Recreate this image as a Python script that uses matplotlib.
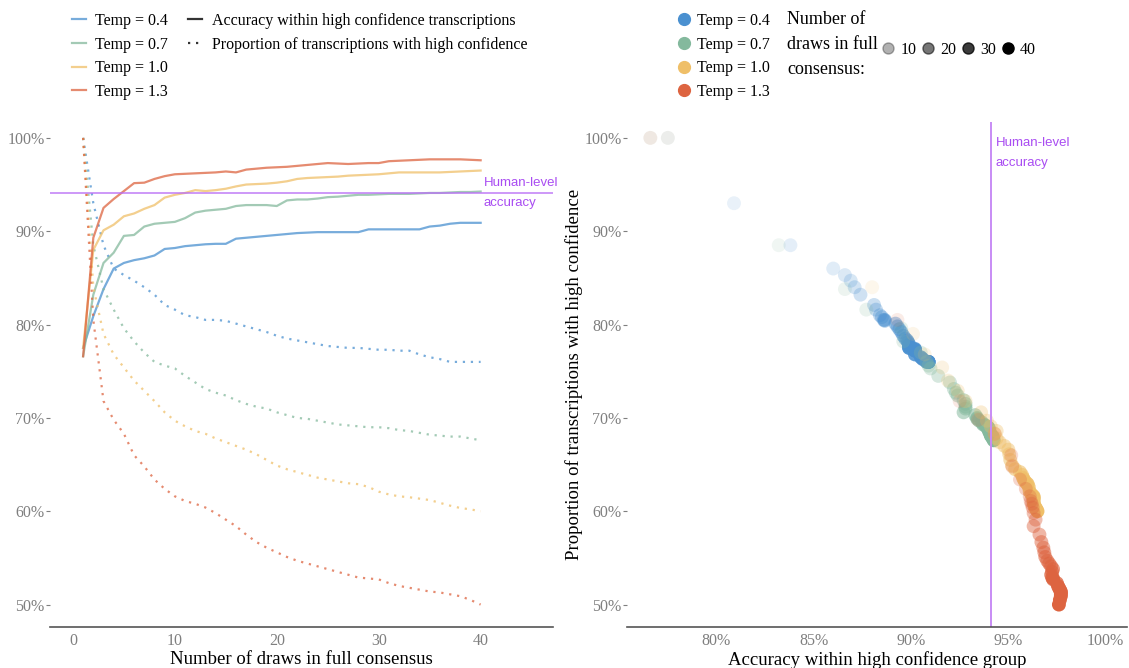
import numpy as np
import matplotlib
matplotlib.use("Agg")
import matplotlib.pyplot as plt
from matplotlib.lines import Line2D
from matplotlib.ticker import PercentFormatter

plt.rcParams['font.family'] = ['Liberation Serif', 'DejaVu Serif']

draws = list(range(1, 41))
temps = ["Temp = 0.4", "Temp = 0.7", "Temp = 1.0", "Temp = 1.3"]
colors = ["#4A90D0", "#84B99D", "#EFBF68", "#DD6440"]
human_level = 94.1

# accuracy within the high-confidence group, n = 1..40
acc_04 = [77.5, 80.9, 83.8, 86.0, 86.6, 86.9, 87.1, 87.4, 88.1, 88.2,
          88.4, 88.5, 88.6, 88.65, 88.65, 89.2, 89.3, 89.4, 89.5, 89.6,
          89.7, 89.8, 89.85, 89.9, 89.9, 89.9, 89.9, 89.9, 90.2, 90.2,
          90.2, 90.2, 90.2, 90.2, 90.5, 90.6, 90.8, 90.9, 90.9, 90.9]
acc_07 = [76.6, 83.2, 86.6, 87.7, 89.5, 89.6, 90.5, 90.8, 90.9, 91.0,
          91.4, 92.0, 92.2, 92.3, 92.4, 92.7, 92.8, 92.8, 92.8, 92.7,
          93.3, 93.4, 93.4, 93.5, 93.65, 93.7, 93.8, 93.9, 93.9, 93.95,
          94.0, 94.0, 94.0, 94.05, 94.1, 94.1, 94.15, 94.2, 94.2, 94.25]
acc_10 = [77.5, 88.0, 90.1, 90.7, 91.6, 91.9, 92.4, 92.8, 93.6, 93.9,
          94.1, 94.4, 94.3, 94.4, 94.55, 94.8, 95.0, 95.05, 95.1, 95.2,
          95.35, 95.6, 95.7, 95.75, 95.8, 95.85, 95.95, 96.0, 96.05, 96.1,
          96.2, 96.3, 96.3, 96.3, 96.3, 96.3, 96.35, 96.4, 96.45, 96.5]
acc_13 = [76.6, 89.3, 92.5, 93.45, 94.3, 95.15, 95.2, 95.6, 95.9, 96.1,
          96.15, 96.2, 96.25, 96.3, 96.4, 96.3, 96.6, 96.7, 96.8, 96.85,
          96.9, 97.0, 97.1, 97.2, 97.3, 97.25, 97.2, 97.25, 97.3, 97.3,
          97.5, 97.55, 97.6, 97.65, 97.7, 97.7, 97.7, 97.7, 97.65, 97.6]

# proportion of transcriptions with high confidence, n = 1..40
prop_04 = [100, 93.0, 88.5, 86.0, 85.3, 84.7, 84.0, 83.2, 82.1, 81.6,
           81.0, 80.8, 80.5, 80.5, 80.4, 80.1, 79.8, 79.5, 79.2, 78.8,
           78.5, 78.3, 78.1, 77.9, 77.7, 77.6, 77.5, 77.5, 77.4, 77.3,
           77.3, 77.2, 77.2, 76.8, 76.5, 76.3, 76.0, 76.0, 76.0, 76.0]
prop_07 = [100, 88.5, 83.8, 81.6, 79.6, 78.2, 77.0, 76.0, 75.6, 75.3,
           74.5, 73.8, 73.1, 72.7, 72.4, 71.9, 71.5, 71.2, 71.0, 70.6,
           70.3, 70.0, 69.9, 69.7, 69.5, 69.3, 69.2, 69.1, 69.0, 69.0,
           68.9, 68.7, 68.6, 68.4, 68.2, 68.1, 68.0, 68.0, 67.8, 67.6]
prop_10 = [100, 84.0, 79.0, 76.8, 75.4, 74.0, 72.9, 71.8, 70.6, 69.7,
           69.1, 68.6, 68.3, 67.8, 67.4, 67.0, 66.6, 66.1, 65.5, 64.9,
           64.5, 64.2, 63.9, 63.6, 63.4, 63.2, 63.0, 62.9, 62.6, 62.1,
           61.8, 61.6, 61.5, 61.35, 61.2, 60.9, 60.6, 60.35, 60.2, 60.0]
prop_13 = [100, 80.5, 71.8, 69.8, 68.3, 66.0, 64.8, 63.4, 62.4, 61.6,
           61.1, 60.8, 60.4, 59.8, 59.1, 58.4, 57.5, 56.7, 56.1, 55.6,
           55.1, 54.7, 54.4, 54.1, 53.8, 53.5, 53.2, 52.9, 52.8, 52.7,
           52.3, 52.0, 51.8, 51.6, 51.4, 51.3, 51.1, 50.9, 50.5, 50.0]

acc_all = [acc_04, acc_07, acc_10, acc_13]
prop_all = [prop_04, prop_07, prop_10, prop_13]

GREY = "#7f7f7f"
AXIS = "#555555"


def style_axes(ax):
    for side in ("top", "right", "left"):
        ax.spines[side].set_visible(False)
    ax.spines["bottom"].set_color(AXIS)
    ax.spines["bottom"].set_linewidth(1.2)
    ax.tick_params(axis="y", length=3, width=0.8, color=GREY, labelcolor=GREY,
                   labelsize=11.5, pad=1)
    ax.tick_params(axis="x", length=0, labelcolor=GREY, labelsize=11.5, pad=4)
    ax.set_yticks([50, 60, 70, 80, 90, 100])
    ax.yaxis.set_major_formatter(PercentFormatter(decimals=0))
    ax.set_ylim(47.6, 101.7)


fig = plt.figure(figsize=(11.29, 6.68), dpi=100)
ax1 = fig.add_axes([50 / 1129, 41 / 668, 503 / 1129, 505 / 668])
ax2 = fig.add_axes([627 / 1129, 41 / 668, 500 / 1129, 505 / 668])

# left: lines vs number of draws
for acc, prop, c in zip(acc_all, prop_all, colors):
    ax1.plot(draws, acc, color=c, lw=1.6, alpha=0.75)
    ax1.plot(draws, prop, color=c, lw=1.6, alpha=0.75, linestyle=(0, (1, 2.6)))
ax1.axhline(human_level, color="#B96EF5", lw=1.1, alpha=0.9)
ax1.text(40.3, human_level, "Human-level\naccuracy", color="#A94CF2",
         family="Liberation Sans", fontsize=9.5, ha="left", va="center",
         linespacing=1.95)
style_axes(ax1)
ax1.set_xlim(-2.25, 47.1)
ax1.set_xticks([0, 10, 20, 30, 40])
ax1.set_xlabel("Number of draws in full consensus", fontsize=13.5, labelpad=2)

# right: accuracy vs proportion, alpha by number of draws
alphas = 0.1 + 0.9 * (np.array(draws) - 1) / 39
for acc, prop, c in zip(acc_all, prop_all, colors):
    rgba = np.tile(matplotlib.colors.to_rgba(c), (len(draws), 1))
    rgba[:, 3] = alphas
    ax2.scatter(acc, prop, s=100, c=rgba, linewidths=0)
ax2.axvline(human_level, color="#C88CF5", lw=1.4)
ax2.text(human_level + 0.25, 98.4, "Human-level\naccuracy", color="#A94CF2",
         family="Liberation Sans", fontsize=9.5, ha="left", va="center",
         linespacing=1.95)
style_axes(ax2)
ax2.set_xlim(75.4, 101.1)
ax2.set_xticks([80, 85, 90, 95, 100])
ax2.xaxis.set_major_formatter(PercentFormatter(decimals=0))
ax2.set_xlabel("Accuracy within high confidence group", fontsize=13.5, labelpad=2)
ax2.set_ylabel("Proportion of transcriptions with high confidence", fontsize=13.5,
               labelpad=1)

# legends
leg_kw = dict(frameon=False, fontsize=11.5, borderpad=0, borderaxespad=0,
              handlelength=0.9, labelspacing=0.48, loc="upper left")
temp_lines = [Line2D([], [], color=c, lw=1.6, alpha=0.75) for c in colors]
fig.legend(temp_lines, temps, bbox_to_anchor=(72 / 1129, 1 - 13 / 668),
           handletextpad=0.55, **leg_kw)
type_lines = [Line2D([], [], color="#333333", lw=1.6),
              Line2D([], [], color="#333333", lw=1.6, linestyle=(0, (1, 2.6)))]
fig.legend(type_lines, ["Accuracy within high confidence transcriptions",
                        "Proportion of transcriptions with high confidence"],
           bbox_to_anchor=(188 / 1129, 1 - 13 / 668), handletextpad=0.6, **leg_kw)

temp_dots = [Line2D([], [], marker="o", ms=8.5, color=c, lw=0) for c in colors]
fig.legend(temp_dots, temps, bbox_to_anchor=(677 / 1129, 1 - 13 / 668),
           handletextpad=0.35, **leg_kw)

fig.text(787 / 1129, 1 - 11 / 668, "Number of\ndraws in full\nconsensus:",
         fontsize=13, ha="left", va="top", linespacing=1.6)
size_keys = [10, 20, 30, 40]
size_dots = [Line2D([], [], marker="o", ms=8, lw=0, color="black",
                    alpha=0.1 + 0.9 * (k - 1) / 39) for k in size_keys]
fig.legend(size_dots, [str(k) for k in size_keys], ncol=4, columnspacing=0.3,
           handletextpad=0.3, bbox_to_anchor=(881 / 1129, 1 - 42 / 668), **leg_kw)

fig.savefig("out.png", dpi=100)
